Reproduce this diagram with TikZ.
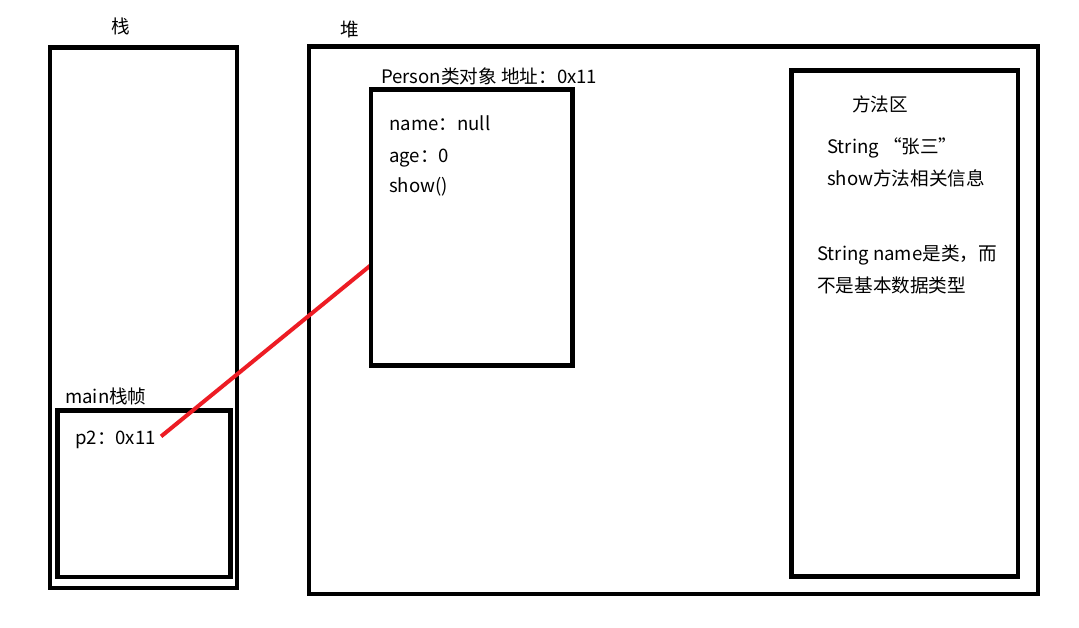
\documentclass[tikz,border=0pt]{standalone}
\usepackage{fontspec}
\setmainfont{Noto Sans CJK SC}
\usetikzlibrary{calc}
\definecolor{linkred}{RGB}{237,28,36}
\begin{document}
\begin{tikzpicture}[x=1pt,y=-1pt,
  box/.style={draw=black,line width=4.5pt,inner sep=0pt,outer sep=0pt},
  lbl/.style={anchor=base west,inner sep=0pt,font=\fontsize{18.6}{20}\selectfont},
  title/.style={inner sep=0pt,font=\fontsize{18.6}{20}\selectfont},
  redline/.style={draw=linkred,line width=4pt}]
\useasboundingbox[fill=white] (0,0) rectangle (1079,627);
% stack
\node[title] (stacktitle) at (121,26) {栈};
\node[box,minimum width=187pt,minimum height=540.5pt] (stack) at (143.5,317.75) {};
\node[lbl] (mainlbl) at (65,403) {main栈帧};
\node[box,minimum width=173pt,minimum height=166.5pt] (mainframe) at (144,493.75) {};
\node[lbl] (p2) at (75,444) {p2：0x11};
% heap
\node[title] (heaptitle) at (350,29) {堆};
\node[box,minimum width=729pt,minimum height=547.5pt] (heap) at (673.5,320.25) {};
\node[lbl] (personlbl) at (381,83) {Person类对象 地址：0x11};
\node[lbl] (f1) at (389,130) {name：null};
\node[lbl] (f2) at (389,162) {age：0};
\node[lbl] (f3) at (389,192) {show()};
% method area
\node[box,minimum width=226.5pt,minimum height=506pt] (method) at (904.75,323.5) {};
\node[lbl] (mtitle) at (852,111) {方法区};
\node[lbl] (m1) at (827,153) {String “张三”};
\node[lbl] (m2) at (827,185) {show方法相关信息};
\node[lbl] (m3) at (817,260) {String name是类，而};
\node[lbl] (m4) at (817,292) {不是基本数据类型};
% reference
\coordinate (pstart) at ([shift={(5pt,3pt)}]p2.east);
\coordinate (pend) at (371,265);
\draw[redline] (pstart) -- (pend);
\node[box,minimum width=201.5pt,minimum height=276pt] (person) at (471.75,227.5) {};
\end{tikzpicture}
\end{document}
